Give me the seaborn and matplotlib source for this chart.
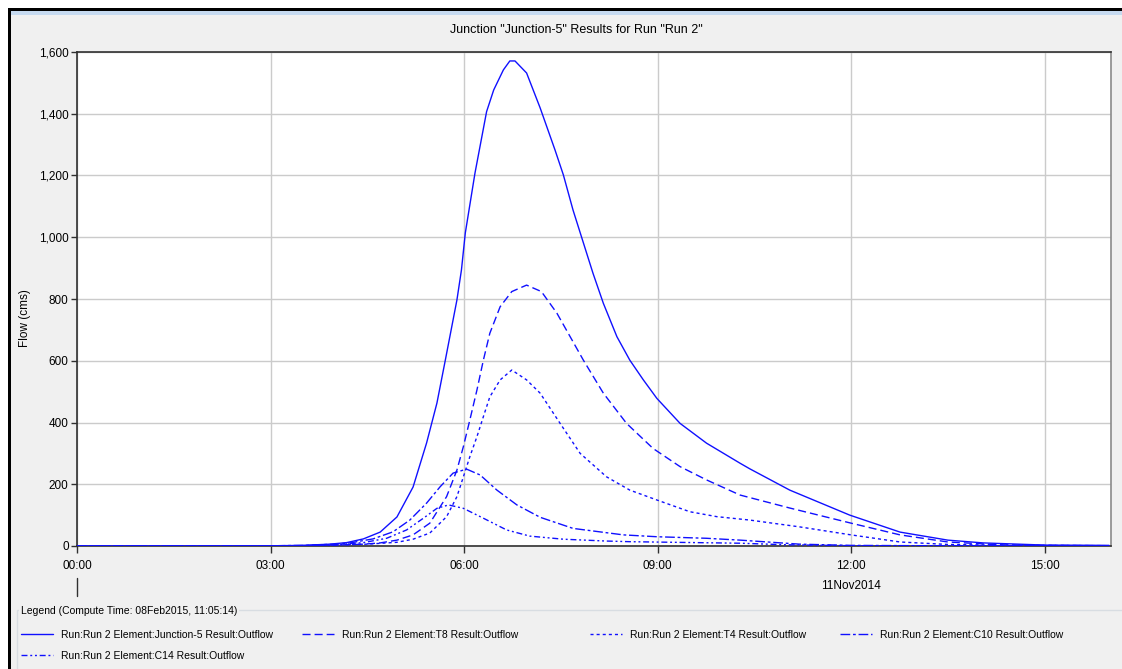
import numpy as np
import pandas as pd
import matplotlib
matplotlib.use("Agg")
import matplotlib.pyplot as plt
import matplotlib.transforms as mtransforms
from matplotlib.patches import Rectangle
from matplotlib.lines import Line2D
import seaborn as sns

# ---------------- data (hours after 00:00, flow in cms) ----------------
series_names = [
    "Run:Run 2 Element:Junction-5 Result:Outflow",
    "Run:Run 2 Element:T8 Result:Outflow",
    "Run:Run 2 Element:T4 Result:Outflow",
    "Run:Run 2 Element:C10 Result:Outflow",
    "Run:Run 2 Element:C14 Result:Outflow",
]

j5_t = [0, 2.75, 3.5, 3.92, 4.18, 4.44, 4.70, 4.96, 5.21, 5.42, 5.58, 5.71, 5.89, 5.96,
        6.02, 6.17, 6.35, 6.46, 6.61, 6.71, 6.79, 6.97, 7.18, 7.41, 7.54, 7.69, 7.82,
        8.0, 8.16, 8.37, 8.57, 8.78, 8.99, 9.35, 9.76, 10.28, 10.43, 11.05, 11.98,
        12.76, 13.5, 14.05, 15.0, 16.0]
j5_v = [0, 0, 2, 6, 11, 23, 45, 94, 191, 334, 463, 602, 797, 894,
        1014, 1208, 1407, 1477, 1542, 1571, 1571, 1532, 1419, 1283, 1202, 1088, 1002,
        883, 786, 678, 602, 538, 478, 397, 333, 268, 250, 181, 100,
        45, 19, 10, 3, 2]

t8_t = [0, 2.75, 3.5, 4.0, 4.45, 4.70, 4.96, 5.21, 5.47, 5.73, 5.89, 5.99, 6.09, 6.20,
        6.30, 6.40, 6.56, 6.74, 6.97, 7.20, 7.44, 7.85, 8.16, 8.52, 8.93, 9.35, 9.76,
        10.28, 11.05, 12.0, 12.76, 13.5, 14.3, 15.0, 16.0]
t8_v = [0, 0, 1, 3, 6, 10, 19, 36, 74, 160, 246, 322, 408, 505,
        602, 689, 775, 824, 845, 824, 754, 602, 495, 397, 316, 257, 214,
        165, 123, 74, 36, 13, 4, 2, 1]

t4_t = [0, 2.75, 3.5, 4.0, 4.5, 4.96, 5.21, 5.47, 5.73, 5.89, 5.99, 6.09, 6.20, 6.30,
        6.40, 6.56, 6.74, 6.97, 7.18, 7.49, 7.80, 8.21, 8.57, 8.99, 9.50, 9.92, 10.43,
        11.2, 12.0, 12.76, 13.5, 14.5, 16.0]
t4_v = [0, 0, 1, 3, 6, 12, 22, 42, 95, 160, 224, 289, 354, 419,
        483, 538, 570, 538, 495, 397, 300, 224, 181, 149, 111, 95, 84,
        62, 36, 13, 5, 2, 1]

c10_t = [0, 2.75, 3.5, 4.0, 4.23, 4.59, 4.90, 5.16, 5.42, 5.63, 5.83, 6.04, 6.25, 6.51,
         6.82, 7.18, 7.69, 8.47, 8.99, 9.76, 10.28, 11.2, 12.0, 13.0, 16.0]
c10_v = [0, 0, 2, 6, 10, 23, 46, 84, 139, 192, 236, 249, 230, 181,
         133, 93, 57, 36, 30, 25, 19, 6, 2, 1, 0]

c14_t = [0, 2.75, 3.5, 4.0, 4.44, 4.80, 5.11, 5.37, 5.58, 5.76, 5.99, 6.30, 6.66, 7.02,
         7.54, 8.21, 8.57, 9.24, 10.28, 11.0, 12.0, 16.0]
c14_v = [0, 0, 1, 4, 11, 25, 52, 90, 122, 133, 122, 90, 52, 32,
         22, 16, 14, 12, 9, 4, 1, 0]

x_tick_hours = [0, 3, 6, 9, 12, 15]
x_tick_labels = ["00:00", "03:00", "06:00", "09:00", "12:00", "15:00"]
y_ticks = [0, 200, 400, 600, 800, 1000, 1200, 1400, 1600]
y_tick_labels = ["0", "200", "400", "600", "800", "1,000", "1,200", "1,400", "1,600"]

title_text = 'Junction "Junction-5" Results for Run "Run 2"'
date_label = "11Nov2014"
legend_title = "Legend (Compute Time: 08Feb2015, 11:05:14)"

# ---------------- build long-form frame ----------------
all_t = [j5_t, t8_t, t4_t, c10_t, c14_t]
all_v = [j5_v, t8_v, t4_v, c10_v, c14_v]
rows = []
for name, ts, vs in zip(series_names, all_t, all_v):
    for t, v in zip(ts, vs):
        rows.append({"hours": t, "flow": v, "series": name})
df = pd.DataFrame(rows)

sns.set_theme(style="white")
plt.rcParams['font.family'] = ['Liberation Sans', 'DejaVu Sans']

W, H = 1122, 669
BG = "#F0F0F0"
LINE = "#1010FF"
fig = plt.figure(figsize=(W / 100, H / 100), dpi=100, facecolor=BG)


def fx(px):
    return px / W


def fy(py):
    return 1 - py / H


# window decorations
fig.patches.append(Rectangle((0, fy(8)), 1, 8 / H, transform=fig.transFigure,
                             facecolor="white", edgecolor="none", zorder=0))
fig.patches.append(Rectangle((0, 0), 8 / W, 1, transform=fig.transFigure,
                             facecolor="white", edgecolor="none", zorder=0))
fig.patches.append(Rectangle((fx(8), fy(11)), 1, 3 / H, transform=fig.transFigure,
                             facecolor="black", edgecolor="none", zorder=1))
fig.patches.append(Rectangle((fx(8), 0), 3 / W, fy(8), transform=fig.transFigure,
                             facecolor="black", edgecolor="none", zorder=1))
fig.patches.append(Rectangle((fx(11), fy(15)), 1, 4 / H, transform=fig.transFigure,
                             facecolor="#C6DAF0", edgecolor="none", zorder=1))
# legend group box
fig.patches.append(Rectangle((fx(17), fy(690)), 1.2, (690 - 610) / H,
                             transform=fig.transFigure, facecolor="none",
                             edgecolor="#D8DDE2", linewidth=1, zorder=1))

ax = fig.add_axes([fx(77), fy(546), fx(1111) - fx(77), fy(52) - fy(546)])
ax.set_facecolor("white")

dash_map = {
    series_names[0]: "",
    series_names[1]: (5.8, 2.9),
    series_names[2]: (2.2, 2.2),
    series_names[3]: (7.0, 2.0, 2.0, 2.0),
    series_names[4]: (4.3, 2.0, 1.4, 2.0, 1.4, 2.0),
}
palette = {n: LINE for n in series_names}

sns.lineplot(data=df, x="hours", y="flow", hue="series", style="series",
             hue_order=series_names, style_order=series_names,
             palette=palette, dashes=dash_map, estimator=None, sort=False,
             linewidth=1.0, legend=False, ax=ax, zorder=3)

ax.set_xlim(0, 16.03)
ax.set_ylim(0, 1600)
ax.set_xticks(x_tick_hours)
ax.set_xticklabels(x_tick_labels)
ax.set_yticks(y_ticks)
ax.set_yticklabels(y_tick_labels)
ax.grid(True, color="#CBCBCB", linewidth=1.0, zorder=0)
ax.set_axisbelow(True)
ax.tick_params(axis="both", direction="out", length=4, width=1, color="#303030",
               labelsize=8.5, labelcolor="black")
ax.tick_params(axis="x", length=5, pad=5)
ax.tick_params(axis="y", pad=2)
ax.tick_params(bottom=True, left=True)
ax.set_xlabel("")
ax.set_ylabel("Flow (cms)", fontsize=8.5, color="black")
ax.yaxis.set_label_coords((31 - 77) / 1034, (546 - 318) / 494)

for s in ["left", "bottom", "top"]:
    ax.spines[s].set_color("#303030")
    ax.spines[s].set_linewidth(1.2)
ax.spines["right"].set_color("#8A8A8A")
ax.spines["right"].set_linewidth(1.2)

blend = mtransforms.blended_transform_factory(ax.transData, ax.transAxes)
ax.add_line(Line2D([0, 0], [(546 - 578) / 494, (546 - 596) / 494], transform=blend,
                   color="#303030", linewidth=1.0, clip_on=False))
ax.text(12, (546 - 586) / 494, date_label, transform=blend, ha="center", va="center",
        fontsize=8.5, color="black")

fig.text(fx(576), fy(30), title_text, ha="center", va="center", fontsize=9, color="black")

fig.text(fx(21), fy(611), legend_title, ha="left", va="center", fontsize=7.5,
         color="black", bbox=dict(facecolor=BG, edgecolor="none", pad=1.5))

handles = ax.lines[:5]
columns = [([0, 4], 21), ([1], 302), ([2], 590), ([3], 840)]
for idxs, xpix in columns:
    leg = fig.legend([handles[i] for i in idxs], [series_names[i] for i in idxs],
                     loc="upper left", bbox_to_anchor=(fx(xpix), fy(630)),
                     bbox_transform=fig.transFigure, frameon=False, fontsize=7.5,
                     handlelength=3.1, handletextpad=0.7, labelspacing=1.05,
                     borderaxespad=0, borderpad=0)
    for t in leg.get_texts():
        t.set_color("black")

fig.savefig("out.png", dpi=100, facecolor=BG)
